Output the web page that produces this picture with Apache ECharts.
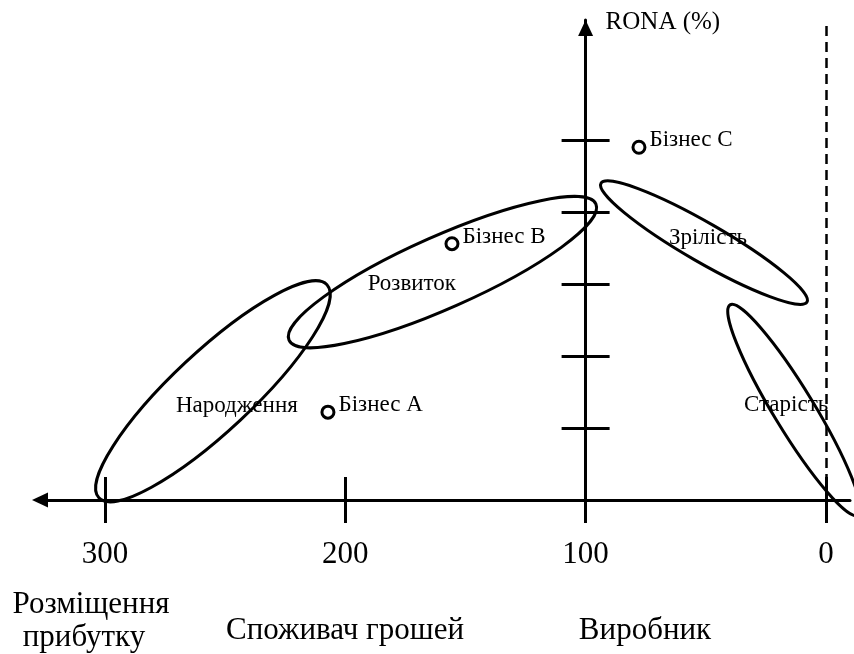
<!DOCTYPE html>
<html>
<head>
<meta charset="utf-8">
<script src="https://cdn.jsdelivr.net/npm/echarts@6/dist/echarts.min.js"></script>
<style>
html, body { margin: 0; padding: 0; background: #fff; }
#main { width: 854px; height: 654px; }
</style>
</head>
<body>
<div id="main"></div>
<script>
// значення
var xTicks = [300, 200, 100, 0];
var yTicks = [1, 2, 3, 4, 5];

var businessNames = ['Бізнес A', 'Бізнес B', 'Бізнес C'];
var businessX = [207.2, 155.6, 77.8];
var businessY = [1.22, 3.56, 4.90];

// стадії: кінці великої осі еліпса та відношення осей
var stageNames = ['Народження', 'Розвиток', 'Зрілість', 'Старість'];
var stageX1 = [302.5, 223.4, 93.6, 39.9];
var stageY1 = [0.03, 2.22, 4.40, 2.71];
var stageX2 = [207.6, 95.7, 7.9, -13.3];
var stageY2 = [2.99, 4.11, 2.75, -0.21];
var stageRatio = [0.255, 0.215, 0.165, 0.165];
var stageLabelX = [245.1, 172.3, 49.1, 16.6];
var stageLabelY = [1.31, 3.0, 3.64, 1.32];

var serif = "'Liberation Serif', 'Times New Roman', serif";

var myChart = echarts.init(document.getElementById('main'));

function renderEllipse(params, api) {
	var p1 = api.coord([api.value(0), api.value(1)]);
	var p2 = api.coord([api.value(2), api.value(3)]);
	var dx = p2[0] - p1[0], dy = p2[1] - p1[1];
	var rx = Math.sqrt(dx * dx + dy * dy) / 2;
	return {
		type: 'ellipse',
		x: (p1[0] + p2[0]) / 2,
		y: (p1[1] + p2[1]) / 2,
		rotation: -Math.atan2(dy, dx),
		shape: { cx: 0, cy: 0, rx: rx, ry: rx * api.value(4) },
		style: { fill: 'none', stroke: '#000', lineWidth: 3 }
	};
}

var stageData = stageNames.map(function (n, i) {
	return { name: n, value: [stageX1[i], stageY1[i], stageX2[i], stageY2[i], stageRatio[i]] };
});
var stageLabels = stageNames.map(function (n, i) {
	return { name: n, value: [stageLabelX[i], stageLabelY[i]] };
});
var businessData = businessNames.map(function (n, i) {
	return { name: n, value: [businessX[i], businessY[i]] };
});

var option = {
	animation: false,
	backgroundColor: '#fff',
	grid: { left: 40, right: 4, top: 20, bottom: 154 },
	xAxis: [
		{
			type: 'value', inverse: true, min: -10, max: 327,
			position: 'bottom',
			axisLine: { show: true, onZero: false, symbol: ['triangle', 'none'], symbolSize: [15, 16],
				lineStyle: { color: '#000', width: 3 } },
			axisTick: { show: true, length: 23, customValues: xTicks, lineStyle: { color: '#000', width: 3 } },
			axisLabel: { show: true, customValues: xTicks, margin: 39, color: '#000', fontSize: 31, fontFamily: serif },
			splitLine: { show: false }
		},
		{
			type: 'value', inverse: true, min: -10, max: 327,
			position: 'top', offset: -480,
			axisLine: { show: false, onZero: false },
			axisTick: { show: true, length: 23, customValues: xTicks, lineStyle: { color: '#000', width: 3 } },
			axisLabel: { show: false },
			splitLine: { show: false }
		}
	],
	yAxis: [
		{
			type: 'value', min: 0, max: 6.667,
			position: 'left', offset: -545.6,
			name: 'RONA (%)', nameLocation: 'end', nameGap: -2,
			nameTextStyle: { color: '#000', fontSize: 25, fontFamily: serif, align: 'left', verticalAlign: 'middle', padding: [0, 0, 0, 20] },
			axisLine: { show: true, onZero: false, symbol: ['none', 'triangle'], symbolSize: [15, 16], symbolOffset: [0, -8],
				lineStyle: { color: '#000', width: 3 } },
			axisTick: { show: true, length: 24, customValues: yTicks, lineStyle: { color: '#000', width: 3 } },
			axisLabel: { show: false },
			splitLine: { show: false }
		},
		{
			type: 'value', min: 0, max: 6.667,
			position: 'right', offset: -264.4,
			axisLine: { show: false, onZero: false },
			axisTick: { show: true, length: 24, customValues: yTicks, lineStyle: { color: '#000', width: 3 } },
			axisLabel: { show: false },
			splitLine: { show: false }
		}
	],
	graphic: [
		{ type: 'text', x: 91, y: 605, style: { text: 'Розміщення', font: '31px ' + serif, fill: '#000', align: 'center', verticalAlign: 'middle' } },
		{ type: 'text', x: 84, y: 638, style: { text: 'прибутку', font: '31px ' + serif, fill: '#000', align: 'center', verticalAlign: 'middle' } },
		{ type: 'text', x: 345, y: 631, style: { text: 'Споживач грошей', font: '31px ' + serif, fill: '#000', align: 'center', verticalAlign: 'middle' } },
		{ type: 'text', x: 645, y: 631, style: { text: 'Виробник', font: '31px ' + serif, fill: '#000', align: 'center', verticalAlign: 'middle' } }
	],
	series: [
		{
			name: 'Стадії',
			type: 'custom',
			renderItem: renderEllipse,
			clip: false,
			encode: { x: [0, 2], y: [1, 3] },
			data: stageData,
			z: 3
		},
		{
			name: 'Підписи стадій',
			type: 'scatter',
			symbolSize: 1,
			itemStyle: { color: 'rgba(0,0,0,0)', opacity: 1 },
			label: { show: true, position: 'inside', formatter: '{b}', color: '#000', opacity: 1, fontSize: 23, fontFamily: serif },
			data: stageLabels,
			silent: true,
			z: 4,
			markLine: {
				silent: true,
				symbol: 'none',
				label: { show: false },
				lineStyle: { color: '#000', width: 2.5, type: [10, 6], opacity: 1 },
				data: [{ xAxis: 0 }]
			}
		},
		{
			name: 'Бізнеси',
			type: 'scatter',
			symbol: 'circle',
			symbolSize: 12,
			itemStyle: { color: '#fff', borderColor: '#000', borderWidth: 3, opacity: 1 },
			label: { show: true, position: 'right', distance: 3, offset: [0, -7], formatter: '{b}', color: '#000', opacity: 1, fontSize: 23, fontFamily: serif },
			data: businessData,
			z: 5
		}
	]
};

myChart.setOption(option);
</script>
</body>
</html>
